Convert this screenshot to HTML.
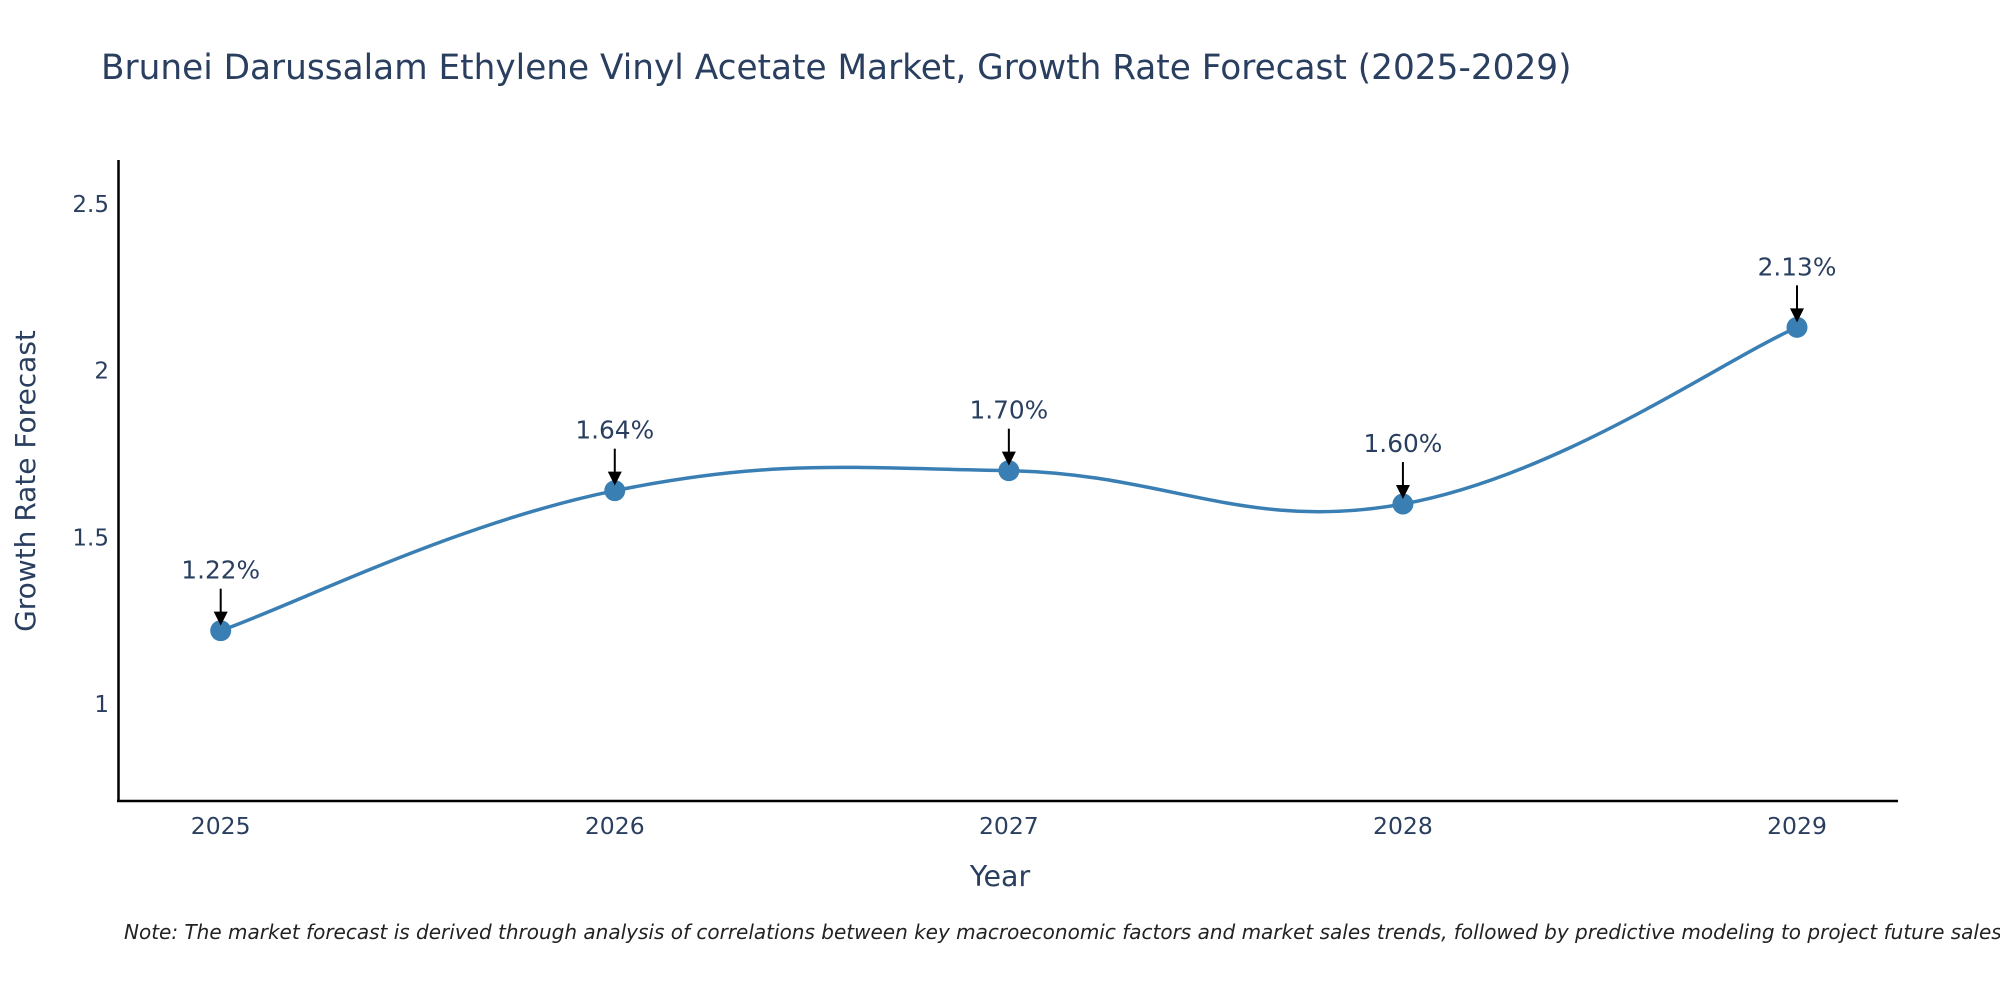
<!DOCTYPE html>
<html><head><meta charset="utf-8"><style>
body{margin:0;background:#fff;}
svg{display:block;font-family:"DejaVu Sans","Liberation Sans",sans-serif;}
</style></head><body>
<svg id="chart" width="2000" height="1000">
<text x="101" y="79" font-size="34.3" fill="#2a3f5f">Brunei Darussalam Ethylene Vinyl Acetate Market, Growth Rate Forecast (2025-2029)</text>
<line x1="118.5" y1="160" x2="118.5" y2="802" stroke="#000" stroke-width="2.5"/>
<line x1="117" y1="801" x2="1898" y2="801" stroke="#000" stroke-width="2.5"/>
<g id="yticks"></g><g id="xticks"></g><g id="series"></g><g id="annots"></g>
<text x="1000" y="886" font-size="28.5" fill="#2a3f5f" text-anchor="middle">Year</text>
<text transform="translate(35,481) rotate(-90)" font-size="28" fill="#2a3f5f" text-anchor="middle">Growth Rate Forecast</text>
<text x="124" y="939" font-size="20" font-style="italic" fill="#222">Note: The market forecast is derived through analysis of correlations between key macroeconomic factors and market sales trends, followed by predictive modeling to project future sales.</text>
</svg>
<script>
const years = ['2025','2026','2027','2028','2029'];
const values = [1.22, 1.64, 1.70, 1.60, 2.13];
const labels = ['1.22%','1.64%','1.70%','1.60%','2.13%'];
const yTicks = [1, 1.5, 2, 2.5];
const yTickLabels = ['1','1.5','2','2.5'];

const NS='http://www.w3.org/2000/svg';
const x0=220.7, x1=1797;
const xs=i=>x0+(x1-x0)*i/(years.length-1);
const ys=v=>704-(v-1)*333.33;
function mk(tag,attrs,parent){const e=document.createElementNS(NS,tag);for(const k in attrs)e.setAttribute(k,attrs[k]);document.getElementById(parent).appendChild(e);return e;}

yTicks.forEach((t,i)=>{
  const e=mk('text',{x:109,y:ys(t)+8,'font-size':23,fill:'#2a3f5f','text-anchor':'end'},'yticks');
  e.textContent=yTickLabels[i];
  
  
});
years.forEach((y,i)=>{
  const e=mk('text',{x:xs(i),y:834,'font-size':23.5,fill:'#2a3f5f','text-anchor':'middle'},'xticks');
  e.textContent=y;
  
  
});
const P=values.map((v,i)=>[xs(i),ys(v)]);
let d='M'+P[0][0]+','+P[0][1];
for(let i=0;i<P.length-1;i++){
  const p0=P[Math.max(i-1,0)],p1=P[i],p2=P[i+1],p3=P[Math.min(i+2,P.length-1)];
  const t=0.2;
  const c1=[p1[0]+(p2[0]-p0[0])*t,p1[1]+(p2[1]-p0[1])*t];
  const c2=[p2[0]-(p3[0]-p1[0])*t,p2[1]-(p3[1]-p1[1])*t];
  d+=` C${c1[0]},${c1[1]} ${c2[0]},${c2[1]} ${p2[0]},${p2[1]}`;
}
const line=mk('path',{d:d,fill:'none',stroke:'#3a7fb4','stroke-width':3.5},'series');


P.forEach((p,i)=>{
  const c=mk('circle',{cx:p[0],cy:p[1],r:10.5,fill:'#3a7fb4'},'series');
  
  
  const a=mk('line',{x1:p[0],y1:p[1]-42,x2:p[0],y2:p[1]-16,stroke:'#000','stroke-width':2},'annots');
  
  
  const h=mk('polygon',{points:`${p[0]-7},${p[1]-19} ${p[0]+7},${p[1]-19} ${p[0]},${p[1]-5}`,fill:'#000'},'annots');
  
  
  const tx=mk('text',{x:p[0],y:p[1]-52,'font-size':24.8,fill:'#2a3f5f','text-anchor':'middle'},'annots');
  tx.textContent=labels[i];
  
  
});
</script>
</body></html>
